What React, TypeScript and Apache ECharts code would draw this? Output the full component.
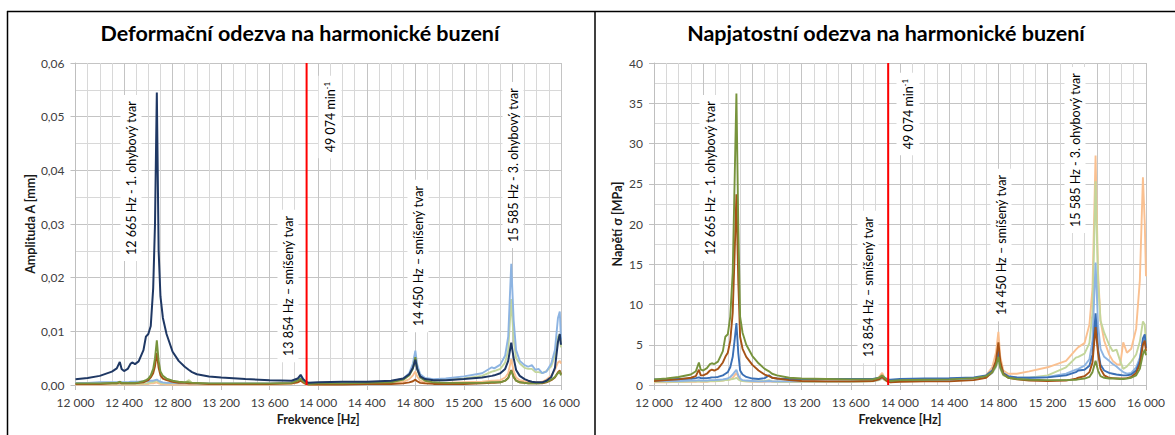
import React, { useEffect, useRef } from "react";
import * as echarts from "echarts";

// Frequency points [Hz]
const freq = [
  12000, 12100, 12200, 12300, 12340, 12365, 12380, 12400, 12430, 12455,
  12470, 12490, 12520, 12560, 12580, 12600, 12620, 12640, 12655, 12670,
  12685, 12700, 12720, 12750, 12800, 12850, 12900, 12935, 12960, 13000,
  13100, 13200, 13400, 13600, 13780, 13830, 13855, 13875, 13900, 13920,
  14000, 14200, 14400, 14600, 14700, 14750, 14780, 14800, 14815, 14840,
  14880, 14950, 15050, 15200, 15350, 15430, 15450, 15500, 15540, 15565,
  15590, 15610, 15630, 15660, 15700, 15730, 15760, 15790, 15815, 15845,
  15880, 15920, 15950, 15975, 15990, 16000,
];

// ---- Deformation response, amplitude A [mm] ----
const defNavy = [
  0.00105, 0.0013, 0.0017, 0.0025, 0.0031, 0.0043, 0.003, 0.0026, 0.003, 0.004,
  0.0042, 0.0039, 0.0044, 0.0065, 0.009, 0.0095, 0.011, 0.018, 0.03, 0.0545,
  0.025, 0.0165, 0.0125, 0.0095, 0.0062, 0.0045, 0.0034, 0.0028, 0.0024, 0.002,
  0.0016, 0.0014, 0.0011, 0.0009, 0.0008, 0.0012, 0.0019, 0.0011, 0.0006, 0.0004,
  0.0005, 0.0006, 0.0006, 0.0008, 0.0012, 0.002, 0.0032, 0.0047, 0.003, 0.0016,
  0.0011, 0.0009, 0.0009, 0.0011, 0.0014, 0.0017, 0.0018, 0.0022, 0.003, 0.0045,
  0.0079, 0.005, 0.0028, 0.0017, 0.0011, 0.0008, 0.0006, 0.0005, 0.0005, 0.0005,
  0.0008, 0.0015, 0.0032, 0.008, 0.0095, 0.0075,
];
const defLightBlue = [
  0.0004, 0.0004, 0.0005, 0.0005, 0.0005, 0.0006, 0.0005, 0.0005, 0.0005, 0.0006,
  0.0006, 0.0006, 0.0006, 0.0007, 0.0007, 0.0007, 0.0008, 0.0008, 0.0009, 0.001,
  0.0008, 0.0006, 0.0005, 0.0004, 0.0004, 0.0003, 0.0003, 0.0003, 0.0003, 0.0003,
  0.0003, 0.0003, 0.0003, 0.0003, 0.0004, 0.001, 0.0016, 0.0008, 0.0003, 0.0002,
  0.0003, 0.0003, 0.0004, 0.0006, 0.0012, 0.0022, 0.004, 0.0064, 0.0038, 0.002,
  0.0013, 0.0011, 0.0012, 0.0016, 0.0022, 0.0033, 0.0031, 0.0038, 0.0055, 0.009,
  0.0226, 0.012, 0.0065, 0.0045, 0.0037, 0.0034, 0.0037, 0.0028, 0.003, 0.0022,
  0.0025, 0.004, 0.0065, 0.0125, 0.0137, 0.0085,
];
const defLightGreen = [
  0.0002, 0.0002, 0.0002, 0.0002, 0.0002, 0.0003, 0.0002, 0.0002, 0.0002, 0.0002,
  0.0002, 0.0002, 0.0002, 0.0003, 0.0003, 0.0004, 0.0005, 0.0006, 0.0007, 0.0009,
  0.0006, 0.0004, 0.0003, 0.0003, 0.0003, 0.0003, 0.0004, 0.0009, 0.0004, 0.0002,
  0.0002, 0.0002, 0.0002, 0.0002, 0.0003, 0.0007, 0.0012, 0.0006, 0.0002, 0.0002,
  0.0002, 0.0003, 0.0003, 0.0005, 0.001, 0.0018, 0.0032, 0.005, 0.003, 0.0016,
  0.001, 0.0009, 0.0009, 0.0012, 0.0017, 0.0025, 0.0026, 0.003, 0.0042, 0.0065,
  0.016, 0.0085, 0.005, 0.004, 0.0032, 0.003, 0.003, 0.0024, 0.0024, 0.0022,
  0.0026, 0.0035, 0.0055, 0.009, 0.0095, 0.007,
];
const defGreen = [
  0.0003, 0.0003, 0.0003, 0.0004, 0.0004, 0.0006, 0.0004, 0.0004, 0.0004, 0.0004,
  0.0004, 0.0004, 0.0005, 0.0007, 0.0009, 0.0012, 0.0018, 0.003, 0.005, 0.0083,
  0.0045, 0.0025, 0.0017, 0.0012, 0.0008, 0.0006, 0.0005, 0.0005, 0.0004, 0.0004,
  0.0003, 0.0003, 0.0003, 0.0003, 0.0004, 0.0008, 0.0012, 0.0007, 0.0003, 0.0002,
  0.0003, 0.0003, 0.0004, 0.0005, 0.001, 0.0018, 0.003, 0.0052, 0.003, 0.0014,
  0.0008, 0.0005, 0.0004, 0.0004, 0.0004, 0.0005, 0.0005, 0.0005, 0.0008, 0.0013,
  0.0027, 0.0015, 0.0008, 0.0005, 0.0004, 0.0003, 0.0003, 0.0003, 0.0003, 0.0004,
  0.0006, 0.001, 0.0015, 0.0022, 0.0025, 0.0018,
];
const defBrown = [
  0.0002, 0.0002, 0.0002, 0.0003, 0.0003, 0.0005, 0.0003, 0.0003, 0.0003, 0.0003,
  0.0003, 0.0003, 0.0004, 0.0005, 0.0007, 0.0009, 0.0014, 0.0022, 0.0035, 0.006,
  0.0032, 0.0018, 0.0012, 0.0009, 0.0006, 0.0004, 0.0004, 0.0003, 0.0003, 0.0003,
  0.0002, 0.0002, 0.0002, 0.0002, 0.0003, 0.0005, 0.0008, 0.0005, 0.0002, 0.0001,
  0.0001, 0.0001, 0.0002, 0.0002, 0.0003, 0.0005, 0.0007, 0.001, 0.0007, 0.0004,
  0.0003, 0.0002, 0.0002, 0.0002, 0.0003, 0.0004, 0.0004, 0.0005, 0.0008, 0.0013,
  0.0028, 0.0015, 0.0008, 0.0005, 0.0004, 0.0003, 0.0003, 0.0003, 0.0003, 0.0003,
  0.0005, 0.0009, 0.0014, 0.0024, 0.0027, 0.002,
];
const defLightOrange = [
  0.0001, 0.0001, 0.0001, 0.0001, 0.0001, 0.0002, 0.0001, 0.0001, 0.0001, 0.0001,
  0.0001, 0.0001, 0.0001, 0.0002, 0.0002, 0.0002, 0.0003, 0.0003, 0.0004, 0.0005,
  0.0003, 0.0002, 0.0002, 0.0001, 0.0001, 0.0001, 0.0001, 0.0001, 0.0001, 0.0001,
  0.0001, 0.0001, 0.0001, 0.0001, 0.0002, 0.0005, 0.0008, 0.0004, 0.0001, 0.0001,
  0.0001, 0.0002, 0.0002, 0.0003, 0.0006, 0.0011, 0.0018, 0.0025, 0.0016, 0.0008,
  0.0005, 0.0004, 0.0004, 0.0005, 0.0006, 0.0008, 0.0008, 0.0009, 0.0014, 0.0022,
  0.0048, 0.0026, 0.0014, 0.0009, 0.0007, 0.0006, 0.0005, 0.0005, 0.0005, 0.0006,
  0.001, 0.0018, 0.0028, 0.0042, 0.0045, 0.004,
];

// ---- Stress response, sigma [MPa] ----
const strGreen = [
  0.7, 0.8, 1.0, 1.3, 1.7, 2.8, 1.9, 1.8, 2.1, 2.6,
  2.7, 2.6, 2.9, 4.2, 6.0, 6.3, 8.5, 14.0, 25.0, 36.2,
  20.0, 8.5, 6.5, 5.0, 3.6, 2.7, 2.0, 1.7, 1.4, 1.2,
  0.9, 0.8, 0.75, 0.7, 0.7, 0.9, 1.2, 0.9, 0.6, 0.5,
  0.6, 0.65, 0.7, 0.85, 1.1, 1.6, 2.4, 3.5, 2.2, 1.3,
  0.9, 0.75, 0.65, 0.6, 0.6, 0.65, 0.7, 0.8, 1.0, 1.6,
  3.0, 1.8, 1.1, 0.9, 0.8, 0.8, 0.8, 0.75, 0.75, 0.8,
  0.9, 1.2, 2.0, 3.8, 4.4, 3.7,
];
const strBrown = [
  0.5, 0.6, 0.7, 0.9, 1.1, 1.9, 1.2, 1.2, 1.4, 1.8,
  1.9, 1.8, 2.0, 2.8, 3.5, 4.0, 5.5, 9.0, 16.0, 23.7,
  13.0, 6.0, 4.5, 3.5, 2.5, 1.8, 1.3, 1.1, 0.9, 0.8,
  0.6, 0.5, 0.45, 0.45, 0.5, 0.7, 1.0, 0.7, 0.4, 0.35,
  0.4, 0.45, 0.45, 0.6, 0.9, 1.6, 3.0, 5.3, 3.0, 1.4,
  0.9, 0.7, 0.55, 0.5, 0.55, 0.8, 0.9, 1.1, 1.6, 2.8,
  7.2, 4.0, 2.0, 1.2, 0.9, 0.85, 0.8, 0.8, 0.8, 0.85,
  1.0, 1.5, 2.6, 5.0, 5.5, 4.2,
];
const strBlue = [
  0.7, 0.7, 0.75, 0.8, 0.85, 0.95, 0.85, 0.85, 0.85, 0.9,
  0.95, 0.95, 1.0, 1.2, 1.4, 1.6, 2.2, 3.5, 5.5, 7.7,
  4.0, 1.8, 1.3, 1.0, 0.8, 0.75, 0.85, 1.2, 0.9, 0.8,
  0.75, 0.75, 0.75, 0.75, 0.75, 0.9, 1.1, 0.9, 0.7, 0.65,
  0.75, 0.8, 0.85, 0.95, 1.2, 1.8, 2.8, 4.2, 2.6, 1.5,
  1.1, 0.95, 0.9, 0.95, 1.2, 1.6, 1.8, 1.9, 2.4, 3.8,
  8.9, 4.5, 2.5, 1.8, 1.5, 1.4, 1.3, 1.25, 1.2, 1.2,
  1.3, 1.8, 3.0, 5.8, 6.3, 4.6,
];
const strLightBlue = [
  0.5, 0.5, 0.5, 0.55, 0.55, 0.6, 0.55, 0.55, 0.55, 0.6,
  0.6, 0.6, 0.65, 0.7, 0.75, 0.8, 1.0, 1.3, 1.6, 1.9,
  1.2, 0.8, 0.6, 0.55, 0.5, 0.45, 0.45, 0.5, 0.45, 0.45,
  0.45, 0.45, 0.45, 0.45, 0.5, 0.7, 0.9, 0.7, 0.5, 0.45,
  0.5, 0.55, 0.6, 0.8, 1.0, 1.5, 2.4, 3.6, 2.2, 1.3,
  1.0, 0.9, 0.9, 1.0, 1.4, 1.9, 2.0, 2.4, 3.2, 5.5,
  15.2, 7.5, 4.5, 3.5, 3.0, 2.6, 2.3, 1.9, 1.6, 1.4,
  1.5, 2.2, 3.4, 5.4, 5.8, 4.8,
];
const strLightGreen = [
  0.4, 0.4, 0.4, 0.45, 0.45, 0.5, 0.45, 0.45, 0.45, 0.5,
  0.5, 0.5, 0.5, 0.55, 0.6, 0.6, 0.7, 0.75, 0.8, 0.9,
  0.7, 0.55, 0.5, 0.45, 0.45, 0.45, 0.5, 0.6, 0.45, 0.4,
  0.4, 0.4, 0.4, 0.4, 0.45, 0.6, 0.8, 0.6, 0.4, 0.35,
  0.45, 0.5, 0.55, 0.7, 1.0, 1.5, 2.2, 3.2, 2.0, 1.2,
  0.95, 0.9, 0.9, 1.2, 2.2, 3.4, 3.5, 3.9, 5.2, 9.0,
  25.3, 13.0, 8.0, 6.5, 5.0, 4.2, 4.4, 3.0, 2.0, 2.3,
  2.9, 3.8, 5.4, 7.9, 7.5, 5.0,
];
const strLightOrange = [
  0.35, 0.35, 0.4, 0.4, 0.4, 0.45, 0.4, 0.4, 0.4, 0.45,
  0.45, 0.45, 0.5, 0.55, 0.6, 0.6, 0.7, 0.9, 1.2, 1.5,
  1.0, 0.6, 0.5, 0.45, 0.4, 0.4, 0.4, 0.45, 0.4, 0.4,
  0.4, 0.4, 0.4, 0.4, 0.5, 1.0, 1.5, 0.9, 0.5, 0.45,
  0.55, 0.6, 0.65, 0.7, 1.2, 2.2, 4.0, 6.6, 3.5, 1.8,
  1.4, 1.4, 1.7, 2.2, 3.0, 4.4, 4.7, 5.2, 7.5, 12.0,
  28.5, 14.0, 8.0, 5.5, 3.8, 3.0, 2.6, 2.5, 5.3, 4.0,
  4.5, 7.0, 13.0, 25.8, 20.0, 13.5,
];

// Excitation line: 49 074 min^-1
const redLineFreq = 13904;

const xTicks = { min: 12000, max: 16000, interval: 400 };
const defTicks = { min: 0, max: 0.06, interval: 0.01 };
const strTicks = { min: 0, max: 40, interval: 5 };

const titles = [
  "Deformační odezva na harmonické buzení",
  "Napjatostní odezva na harmonické buzení",
];
const yNames = ["Amplituda A [mm]", "Napětí σ [MPa]"];
const xName = "Frekvence [Hz]";
const modeLabels = [
  "12 665 Hz - 1. ohybový tvar",
  "13 854 Hz – smíšený tvar",
  "14 450 Hz – smíšený tvar",
  "15 585 Hz - 3. ohybový tvar",
];

const C = {
  navy: "#1f3864",
  lightBlue: "#8db4e2",
  lightGreen: "#c3d69b",
  green: "#77933c",
  brown: "#a65215",
  lightOrange: "#fac090",
  blue: "#3a6fb5",
};

const FONT = 'Lato, "Noto Sans", sans-serif';

const fmtThousands = (v: number) =>
  String(v).replace(/\B(?=(\d{3})+(?!\d))/g, " ");

function makeX(gridIndex: number) {
  return {
    type: "value",
    gridIndex,
    ...xTicks,
    name: xName,
    nameLocation: "middle",
    nameGap: 28,
    nameTextStyle: { fontFamily: FONT, fontSize: 12.5, fontWeight: "bold", color: "#1a1a1a" },
    axisLine: { show: true, onZero: false, lineStyle: { color: "#bfbfbf" } },
    axisTick: { show: true, length: 5, lineStyle: { color: "#bfbfbf" } },
    axisLabel: { formatter: fmtThousands, fontFamily: FONT, fontSize: 12, color: "#404040", margin: 11 },
    splitLine: { show: true, lineStyle: { color: "#c4c4c4", width: 1 } },
    minorTick: { show: false, splitNumber: 4 },
    minorSplitLine: { show: true, lineStyle: { color: "#d8d8d8", width: 1 } },
  };
}

function makeY(gridIndex: number, ticks: any, name: string, gap: number, fmt: (v: number) => string) {
  return {
    type: "value",
    gridIndex,
    ...ticks,
    name,
    nameLocation: "middle",
    nameGap: gap,
    nameRotate: 90,
    nameTextStyle: { fontFamily: FONT, fontSize: 12.5, fontWeight: "bold", color: "#1a1a1a" },
    axisLine: { show: true, lineStyle: { color: "#bfbfbf" } },
    axisTick: { show: true, length: 5, lineStyle: { color: "#bfbfbf" } },
    axisLabel: { formatter: fmt, fontFamily: FONT, fontSize: 12, color: "#404040", margin: 11 },
    splitLine: { show: true, lineStyle: { color: "#c4c4c4", width: 1 } },
    minorTick: { show: false, splitNumber: 2 },
    minorSplitLine: { show: true, lineStyle: { color: "#d8d8d8", width: 1 } },
  };
}

function line(idx: number, values: number[], color: string, width = 1.9) {
  return {
    type: "line",
    xAxisIndex: idx,
    yAxisIndex: idx,
    data: freq.map((f, i) => [f, values[i]]),
    showSymbol: false,
    symbol: "none",
    smooth: false,
    lineStyle: { color, width },
    itemStyle: { color },
    silent: true,
  };
}

function redLine(idx: number, top: number) {
  return {
    type: "line",
    xAxisIndex: idx,
    yAxisIndex: idx,
    data: [
      [redLineFreq, 0],
      [redLineFreq, top],
    ],
    symbol: "none",
    lineStyle: { color: "#ff0000", width: 2 },
    z: 5,
    silent: true,
  };
}

function label(x: number, y: number, text: string) {
  return {
    type: "text",
    x,
    y,
    rotation: Math.PI / 2,
    z: 100,
    style: {
      text,
      font: `12.5px ${FONT}`,
      fill: "#000000",
      align: "center",
      verticalAlign: "middle",
      backgroundColor: "#ffffff",
      padding: [4, 6],
    },
  };
}

function rpmLabel(x: number, y: number) {
  return {
    type: "text",
    x,
    y,
    rotation: Math.PI / 2,
    z: 100,
    style: {
      text: "{a|49 074 min}{s|-1}",
      align: "center",
      verticalAlign: "middle",
      backgroundColor: "#ffffff",
      padding: [4, 6],
      rich: {
        a: { font: `12.5px ${FONT}`, fill: "#000000" },
        s: { font: `8px ${FONT}`, fill: "#000000", padding: [0, 0, 7, 0] },
      },
    },
  };
}

export default function App() {
  const ref = useRef<HTMLDivElement>(null);
  useEffect(() => {
    if (!ref.current) return;
    const chart = echarts.init(ref.current, null, { renderer: "svg" });
    const option: any = {
      animation: false,
      backgroundColor: "#ffffff",
      grid: [
        { left: 75.5, top: 63, width: 485.5, height: 322 },
        { left: 654, top: 63, width: 492, height: 322 },
      ],
      xAxis: [makeX(0), makeX(1)],
      yAxis: [
        makeY(0, defTicks, yNames[0], 37, (v: number) => v.toFixed(2).replace(".", ",")),
        makeY(1, strTicks, yNames[1], 30, (v: number) => String(v)),
      ],
      series: [
        line(0, defLightOrange, C.lightOrange),
        line(0, defLightGreen, C.lightGreen),
        line(0, defLightBlue, C.lightBlue),
        line(0, defBrown, C.brown),
        line(0, defGreen, C.green),
        line(0, defNavy, C.navy, 2),
        redLine(0, defTicks.max),
        line(1, strLightOrange, C.lightOrange),
        line(1, strLightGreen, C.lightGreen),
        line(1, strLightBlue, C.lightBlue),
        line(1, strBlue, C.blue),
        line(1, strBrown, C.brown),
        line(1, strGreen, C.green),
        redLine(1, strTicks.max),
      ],
      graphic: [
        { type: "line", shape: { x1: 7, y1: 11.5, x2: 1175, y2: 11.5 }, style: { stroke: "#000", lineWidth: 1.5 } },
        { type: "line", shape: { x1: 7.5, y1: 11, x2: 7.5, y2: 435 }, style: { stroke: "#000", lineWidth: 1.5 } },
        { type: "line", shape: { x1: 595, y1: 11, x2: 595, y2: 435 }, style: { stroke: "#000", lineWidth: 1.5 } },
        {
          type: "text", x: 300, y: 33, z: 100,
          style: { text: titles[0], font: `bold 21.5px ${FONT}`, fill: "#000", align: "center", verticalAlign: "middle" },
        },
        {
          type: "text", x: 886, y: 33, z: 100,
          style: { text: titles[1], font: `bold 21.5px ${FONT}`, fill: "#000", align: "center", verticalAlign: "middle" },
        },
        label(131, 178, modeLabels[0]),
        label(288, 286, modeLabels[1]),
        rpmLabel(330, 117),
        label(418, 256, modeLabels[2]),
        label(513, 165, modeLabels[3]),
        label(710, 178, modeLabels[0]),
        label(868, 287, modeLabels[1]),
        rpmLabel(908, 114),
        label(1001, 245, modeLabels[2]),
        label(1075, 150, modeLabels[3]),
      ],
    };
    chart.setOption(option);
    return () => chart.dispose();
  }, []);
  return (
    <div
      ref={ref}
      style={{ position: "fixed", left: 0, top: 0, width: 1175, height: 435, background: "#fff" }}
    />
  );
}
